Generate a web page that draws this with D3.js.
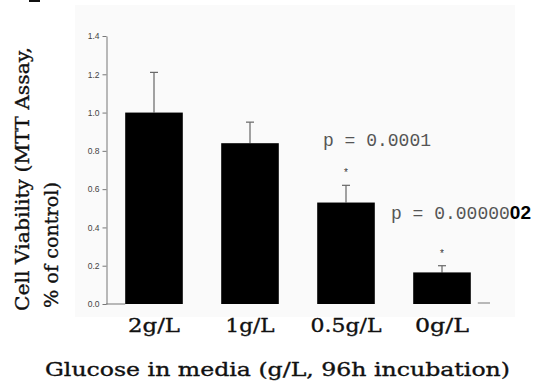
<!DOCTYPE html>
<html>
<head>
<meta charset="utf-8">
<script src="https://cdn.jsdelivr.net/npm/d3@7"></script>
<style>
  body { margin: 0; background: #fff; }
  svg { display: block; }
</style>
</head>
<body>
<div id="vis"></div>
<script>
// chart data
const CATEGORIES = ["2g/L", "1g/L", "0.5g/L", "0g/L"];
const VIABILITY = [1.0, 0.84, 0.53, 0.165];
const ERRORS = [0.21, 0.11, 0.09, 0.035];
const STARRED = [false, false, true, true];
const Y_TICKS = [0, 0.2, 0.4, 0.6, 0.8, 1.0, 1.2, 1.4];

// frame
const FRAME_WIDTH = 540;
const FRAME_HEIGHT = 387;

const FRAME = d3.select("#vis")
  .append("svg")
    .attr("width", FRAME_WIDTH)
    .attr("height", FRAME_HEIGHT);

// faint plot background
FRAME.append("rect")
  .attr("x", 75).attr("y", 5)
  .attr("width", 440).attr("height", 312)
  .attr("fill", "#fafafa");

// fragment at top left
FRAME.append("rect")
  .attr("x", 29).attr("y", 0)
  .attr("width", 11).attr("height", 2)
  .attr("fill", "#111");

// scales
const X_SCALE = d3.scaleBand()
  .domain(CATEGORIES)
  .range([106, 490])
  .paddingInner(0.4)
  .paddingOuter(0.2);

const Y_SCALE = d3.scaleLinear()
  .domain([0, 1.4])
  .range([304, 36]);

// y axis
const yAxis = FRAME.append("g")
  .attr("transform", "translate(106.5,0)")
  .call(d3.axisLeft(Y_SCALE)
    .tickValues(Y_TICKS)
    .tickFormat(d3.format(".1f"))
    .tickSize(4)
    .tickSizeOuter(0)
    .tickPadding(3));

yAxis.select(".domain").attr("stroke", "#777");
yAxis.selectAll(".tick line").attr("stroke", "#777");
yAxis.selectAll(".tick text")
  .attr("font-family", "Liberation Sans, Arial, sans-serif")
  .attr("font-size", "8.5px")
  .attr("fill", "#444");

// baseline pieces
const y0 = Y_SCALE(0);
FRAME.append("line")
  .attr("x1", X_SCALE.range()[0]).attr("x2", X_SCALE(CATEGORIES[0]))
  .attr("y1", y0).attr("y2", y0)
  .attr("stroke", "#777");
FRAME.append("line")
  .attr("x1", X_SCALE(CATEGORIES[3]) + X_SCALE.bandwidth() + 7)
  .attr("x2", X_SCALE.range()[1])
  .attr("y1", y0 - 1).attr("y2", y0 - 1)
  .attr("stroke", "#777");

// error bars (upper only)
const errG = FRAME.append("g");
CATEGORIES.forEach((c, i) => {
  const cx = X_SCALE(c) + X_SCALE.bandwidth() / 2;
  errG.append("line")
    .attr("x1", cx).attr("x2", cx)
    .attr("y1", Y_SCALE(VIABILITY[i]))
    .attr("y2", Y_SCALE(VIABILITY[i] + ERRORS[i]))
    .attr("stroke", "#666").attr("stroke-width", 1.2);
  errG.append("line")
    .attr("x1", cx - 4).attr("x2", cx + 4)
    .attr("y1", Y_SCALE(VIABILITY[i] + ERRORS[i]))
    .attr("y2", Y_SCALE(VIABILITY[i] + ERRORS[i]))
    .attr("stroke", "#666").attr("stroke-width", 1.2);
});

// bars
FRAME.selectAll(".bar")
  .data(CATEGORIES)
  .enter()
  .append("rect")
    .attr("class", "bar")
    .attr("x", (d) => X_SCALE(d))
    .attr("y", (d, i) => Y_SCALE(VIABILITY[i]))
    .attr("width", X_SCALE.bandwidth())
    .attr("height", (d, i) => Y_SCALE(0) - Y_SCALE(VIABILITY[i]))
    .attr("fill", "#000");

// significance stars
CATEGORIES.forEach((c, i) => {
  if (!STARRED[i]) return;
  FRAME.append("text")
    .attr("x", X_SCALE(c) + X_SCALE.bandwidth() / 2)
    .attr("y", Y_SCALE(VIABILITY[i] + ERRORS[i]) - 9)
    .attr("text-anchor", "middle")
    .attr("font-family", "Liberation Sans, Arial, sans-serif")
    .attr("font-size", "10px")
    .attr("fill", "#333")
    .text("*");
});

// p-values
const MONO = "Liberation Mono, Courier New, monospace";
FRAME.append("text")
  .attr("x", 323).attr("y", 146)
  .attr("font-family", MONO)
  .attr("font-size", "18px")
  .attr("fill", "#555")
  .text("p = 0.0001");

const p2 = FRAME.append("text")
  .attr("x", 391).attr("y", 219)
  .attr("font-family", MONO)
  .attr("font-size", "18px")
  .attr("fill", "#555");
p2.append("tspan").text("p = 0.00000");
p2.append("tspan")
  .attr("font-family", "Liberation Sans, Arial, sans-serif")
  .attr("font-weight", "bold")
  .attr("font-size", "19px")
  .attr("fill", "#000")
  .text("02");

// serif text, drawn slightly heavier like the scanned figure
const SERIF = "DejaVu Serif, serif";
function serifText(sel) {
  sel.attr("font-family", SERIF)
     .attr("font-size", "19px")
     .attr("fill", "#111")
     .attr("stroke", "#111")
     .attr("stroke-width", 0.35)
     .attr("lengthAdjust", "spacingAndGlyphs");
}

// category labels
const CAT_WIDTHS = [52, 49, 71, 54];
FRAME.selectAll(".cat")
  .data(CATEGORIES)
  .enter()
  .append("text")
    .attr("class", "cat")
    .attr("x", (d) => X_SCALE(d) + X_SCALE.bandwidth() / 2)
    .attr("y", 332)
    .attr("text-anchor", "middle")
    .call(serifText)
    .attr("textLength", (d, i) => CAT_WIDTHS[i])
    .text((d) => d);

// x title
FRAME.append("text")
  .attr("x", 45).attr("y", 376)
  .call(serifText)
  .attr("textLength", 465)
  .text("Glucose in media (g/L, 96h incubation)");

// y title (two lines)
FRAME.append("text")
  .attr("transform", "translate(29,311) rotate(-90)")
  .call(serifText)
  .attr("textLength", 264)
  .text("Cell Viability (MTT Assay,");

FRAME.append("text")
  .attr("transform", "translate(58,308) rotate(-90)")
  .call(serifText)
  .attr("textLength", 126)
  .text("% of control)");
</script>
</body>
</html>
